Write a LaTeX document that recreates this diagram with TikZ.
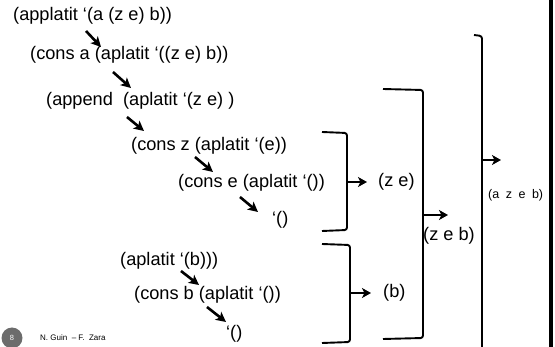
\documentclass[tikz,border=0pt]{standalone}
\usepackage{fontspec}
\setmainfont{Liberation Sans}
\usetikzlibrary{arrows.meta}
\tikzset{
  expr/.style={anchor=west, inner sep=0pt, font=\fontsize{18.2}{20}\selectfont},
  small/.style={anchor=west, inner sep=0pt, font=\fontsize{12.5}{14}\selectfont},
  stepar/.style={line width=2.6pt, -{Stealth[length=10pt,width=10pt,inset=2.5pt]}},
  bracket/.style={line width=1.9pt, rounded corners=2.5pt},
  outar/.style={line width=2pt, -{Stealth[length=9pt,width=10pt,inset=2.5pt]}},
}
\begin{document}
\begin{tikzpicture}[x=1pt, y=-1pt]
\useasboundingbox (0,0) rectangle (555,347);

% evaluation steps
\node[expr] (t1) at (13,16) {(applatit ‘(a (z e) b))};
\node[expr] (t2) at (30,55) {(cons a (aplatit ‘((z e) b))};
\node[expr] (t3) at (46,101) {(append \ (aplatit ‘(z e) )};
\node[expr] (t4) at (131,146) {(cons z (aplatit ‘(e))};
\node[expr] (t5) at (178,183) {(cons e (aplatit ‘())};
\node[expr] (t6) at (272,220) {‘()};
\node[expr] (t7) at (120,261) {(aplatit ‘(b)))};
\node[expr] (t8) at (134,295) {(cons b (aplatit ‘())};
\node[expr] (t9) at (226,334) {‘()};

% step arrows
\coordinate (s1a) at (86,31);   \coordinate (s1b) at (101,47);
\coordinate (s2a) at (113,72);  \coordinate (s2b) at (131,88);
\coordinate (s3a) at (127,117); \coordinate (s3b) at (144,131);
\coordinate (s4a) at (195,157); \coordinate (s4b) at (213,172);
\coordinate (s5a) at (240,197); \coordinate (s5b) at (258,212);
\coordinate (s6a) at (181,271); \coordinate (s6b) at (199,285);
\coordinate (s7a) at (207,307); \coordinate (s7b) at (226,322);
\foreach \i in {1,...,7} \draw[stepar] (s\i a) -- (s\i b);

% results
\node[expr] (r1) at (378,182) {(z e)};
\node[expr] (r2) at (383,293) {(b)};
\node[expr] (r3) at (423,236) {(z e b)};
\node[small] (r4) at (488,195) {\spaceskip=6.5pt (a z e b)};

% brackets
\draw[bracket] (322,132) -- (347,133) -- (347,230) -- (322,231);
\draw[bracket] (322,244) -- (350,245) -- (350,342) -- (322,343);
\draw[bracket] (383,89) -- (423,90) -- (423,338) -- (383,339);
\draw[bracket] (474,35) -- (482,36) -- (482,347);
\coordinate (b1) at (347,182); \coordinate (b2) at (350,293);
\coordinate (b3) at (423,215); \coordinate (b4) at (482,160);
\draw[outar] (b1) -- ++(20,0);
\draw[outar] (b2) -- ++(21,0);
\draw[outar] (b3) -- ++(25,0);
\draw[outar] (b4) -- ++(19,0);

% page frame edge
\fill[black] (549,0) rectangle (552.5,347);

% footer
\fill[gray!85!black] (12,338) circle (10.5);
\node[inner sep=0pt, text=white, font=\fontsize{7.5}{8}\selectfont] (pg) at (12,338) {8};
\node[anchor=west, inner sep=0pt, font=\fontsize{8}{9}\selectfont] (au) at (40,338) {N. Guin \ – F. \ Zara};
\end{tikzpicture}
\end{document}
